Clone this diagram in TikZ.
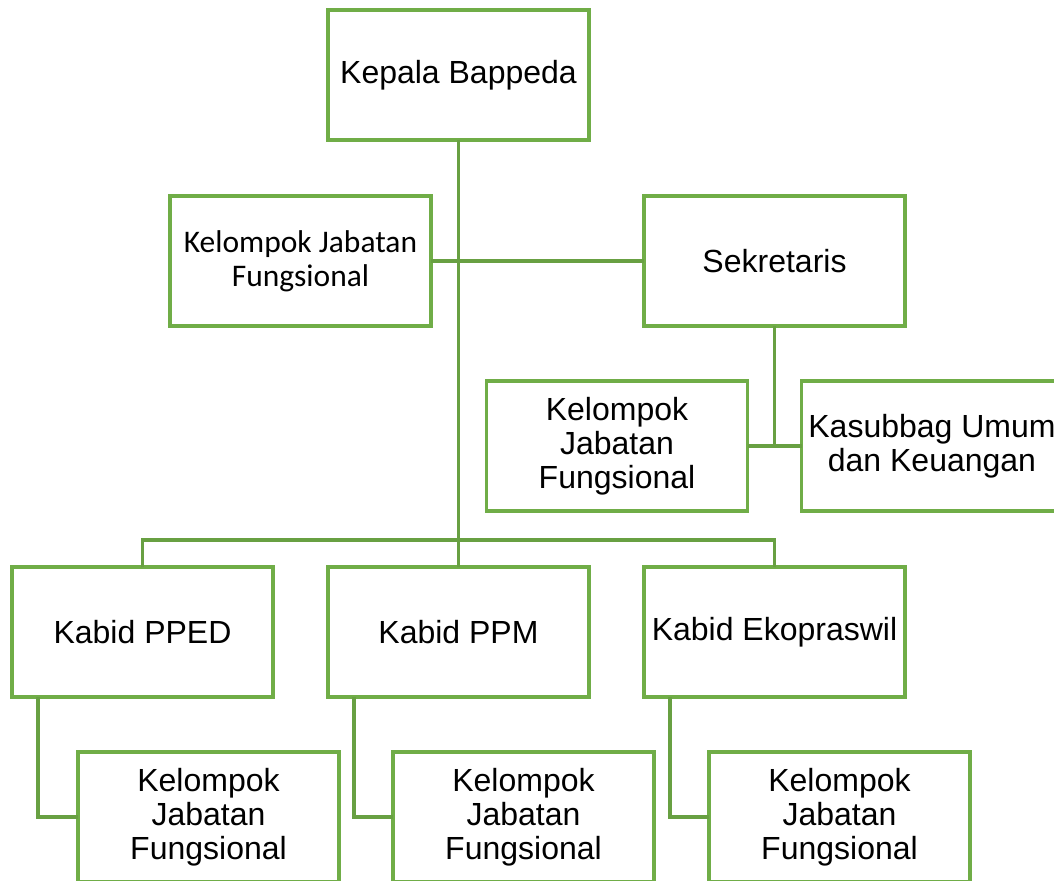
\documentclass[tikz,border=0pt]{standalone}
\usepackage{fontspec}
\setmainfont{Liberation Sans}
\newfontfamily\calibrifont{Carlito}
\begin{document}
\begin{tikzpicture}[x=0.75pt,y=0.75pt,yscale=-1,xscale=1,
  unitbox/.style={draw={rgb, 255:red, 112; green, 173; blue, 71 },line width=2.5pt,minimum width=195.75pt,minimum height=97.5pt,inner sep=0pt,outer sep=0pt,align=center,font=\fontsize{24}{25.5}\selectfont},
  link/.style={draw={rgb, 255:red, 104; green, 160; blue, 66 },line width=2.5pt}]
\useasboundingbox (0,0) rectangle (1054,881);
\clip (0,0) rectangle (1054,881);
\node[unitbox] (kepala) at (458.5,75) {Kepala Bappeda};
\node[unitbox,font=\calibrifont\fontsize{23.6}{25.5}\selectfont] (kjfatas) at (300.5,261) {Kelompok Jabatan\\Fungsional};
\node[unitbox] (sekretaris) at (774.5,261) {Sekretaris};
\node[unitbox] (kjfsek) at (617,446) {Kelompok\\Jabatan\\Fungsional};
\node[unitbox] (kasubbag) at (932,446) {Kasubbag Umum\\dan Keuangan};
\node[unitbox] (pped) at (142.5,632) {Kabid PPED};
\node[unitbox] (ppm) at (458.5,632) {Kabid PPM};
\node[unitbox] (ekop) at (774.5,632) {Kabid Ekopraswil};
\node[unitbox] (kjfpped) at (208.5,817) {Kelompok\\Jabatan\\Fungsional};
\node[unitbox] (kjfppm) at (523.5,817) {Kelompok\\Jabatan\\Fungsional};
\node[unitbox] (kjfekop) at (839.5,817) {Kelompok\\Jabatan\\Fungsional};
\coordinate (bus) at (458.5,540);
\draw[link] (kepala.south) -- (ppm.north);
\draw[link] (kjfatas.east) -- (sekretaris.west);
\draw[link] (sekretaris.south) -- (sekretaris.south |- kasubbag.west);
\draw[link] (kjfsek.east) -- (kasubbag.west);
\draw[link] (pped.north) |- (bus) -| (ekop.north);
\draw[link] (pped.south west) ++(26,0) |- (kjfpped.west);
\draw[link] (ppm.south west) ++(26,0) |- (kjfppm.west);
\draw[link] (ekop.south west) ++(26,0) |- (kjfekop.west);
\end{tikzpicture}
\end{document}
